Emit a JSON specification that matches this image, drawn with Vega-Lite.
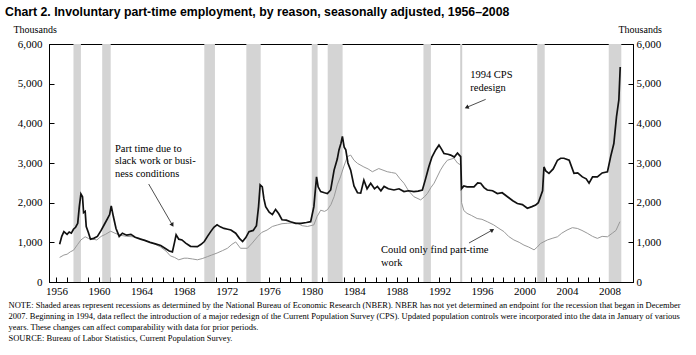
{
  "$schema": "https://vega.github.io/schema/vega-lite/v6.json",
  "width": 584,
  "height": 238,
  "autosize": {"type": "none"},
  "padding": {"left": 49, "top": 44, "right": 63, "bottom": 73},
  "background": "white",
  "config": {"view": {"stroke": "black", "strokeWidth": 1}, "font": "Liberation Serif"},
  "title": {
    "text": "Chart 2. Involuntary part-time employment, by reason, seasonally adjusted, 1956–2008",
    "anchor": "start",
    "frame": "group",
    "dx": -44,
    "offset": 6,
    "font": "Liberation Sans",
    "fontSize": 12.3,
    "fontWeight": "bold",
    "color": "black"
  },
  "datasets": {
    "rec": [
      {"t": 1957.6, "t2": 1958.3},
      {"t": 1960.3, "t2": 1961.1},
      {"t": 1969.9, "t2": 1970.9},
      {"t": 1973.85, "t2": 1975.2},
      {"t": 1980.0, "t2": 1980.55},
      {"t": 1981.5, "t2": 1982.9},
      {"t": 1990.5, "t2": 1991.2},
      {"t": 2001.2, "t2": 2001.9},
      {"t": 2007.92, "t2": 2009.1}
    ],
    "slack": [
      {"t": 1956.3, "v": 950}, {"t": 1956.5, "v": 1150}, {"t": 1956.7, "v": 1270}, {"t": 1957.0, "v": 1200},
      {"t": 1957.2, "v": 1260}, {"t": 1957.4, "v": 1230}, {"t": 1957.6, "v": 1330}, {"t": 1957.8, "v": 1380},
      {"t": 1958.0, "v": 1480}, {"t": 1958.15, "v": 1900}, {"t": 1958.3, "v": 2220}, {"t": 1958.45, "v": 2150},
      {"t": 1958.55, "v": 1750}, {"t": 1958.7, "v": 1780}, {"t": 1958.8, "v": 1400}, {"t": 1959.0, "v": 1250},
      {"t": 1959.2, "v": 1080}, {"t": 1959.5, "v": 1100}, {"t": 1959.85, "v": 1150}, {"t": 1960.2, "v": 1300},
      {"t": 1960.5, "v": 1450}, {"t": 1960.8, "v": 1600}, {"t": 1961.0, "v": 1700}, {"t": 1961.15, "v": 1920},
      {"t": 1961.35, "v": 1650}, {"t": 1961.6, "v": 1350}, {"t": 1961.9, "v": 1150}, {"t": 1962.2, "v": 1230},
      {"t": 1962.6, "v": 1180}, {"t": 1963.0, "v": 1200}, {"t": 1963.4, "v": 1130}, {"t": 1963.9, "v": 1080},
      {"t": 1964.3, "v": 1050}, {"t": 1964.8, "v": 1000}, {"t": 1965.3, "v": 960}, {"t": 1965.8, "v": 920},
      {"t": 1966.2, "v": 850}, {"t": 1966.6, "v": 780}, {"t": 1966.9, "v": 760}, {"t": 1967.1, "v": 1000},
      {"t": 1967.25, "v": 1190}, {"t": 1967.5, "v": 1080}, {"t": 1967.8, "v": 1060}, {"t": 1968.15, "v": 980},
      {"t": 1968.6, "v": 900}, {"t": 1969.25, "v": 890}, {"t": 1969.6, "v": 950}, {"t": 1969.9, "v": 1020},
      {"t": 1970.2, "v": 1150}, {"t": 1970.5, "v": 1270}, {"t": 1970.8, "v": 1380}, {"t": 1971.1, "v": 1440},
      {"t": 1971.4, "v": 1390}, {"t": 1971.75, "v": 1350}, {"t": 1972.1, "v": 1330}, {"t": 1972.4, "v": 1310},
      {"t": 1972.85, "v": 1230}, {"t": 1973.2, "v": 1100}, {"t": 1973.5, "v": 1020}, {"t": 1973.8, "v": 1120},
      {"t": 1974.1, "v": 1270}, {"t": 1974.5, "v": 1300}, {"t": 1974.8, "v": 1420}, {"t": 1975.0, "v": 1900},
      {"t": 1975.15, "v": 2450}, {"t": 1975.35, "v": 2400}, {"t": 1975.5, "v": 2100}, {"t": 1975.67, "v": 1900},
      {"t": 1976.0, "v": 1760}, {"t": 1976.3, "v": 1700}, {"t": 1976.6, "v": 1830}, {"t": 1976.9, "v": 1720},
      {"t": 1977.2, "v": 1570}, {"t": 1977.6, "v": 1560}, {"t": 1978.0, "v": 1520}, {"t": 1978.5, "v": 1480},
      {"t": 1979.0, "v": 1480}, {"t": 1979.5, "v": 1500}, {"t": 1979.9, "v": 1520}, {"t": 1980.2, "v": 1900},
      {"t": 1980.45, "v": 2650}, {"t": 1980.6, "v": 2400}, {"t": 1980.84, "v": 2280}, {"t": 1981.2, "v": 2250},
      {"t": 1981.47, "v": 2230}, {"t": 1981.78, "v": 2320}, {"t": 1982.1, "v": 2820}, {"t": 1982.4, "v": 3100},
      {"t": 1982.56, "v": 3330}, {"t": 1982.75, "v": 3500}, {"t": 1982.88, "v": 3670}, {"t": 1983.05, "v": 3400},
      {"t": 1983.2, "v": 3330}, {"t": 1983.4, "v": 3000}, {"t": 1983.66, "v": 2820}, {"t": 1983.97, "v": 2420},
      {"t": 1984.3, "v": 2250}, {"t": 1984.6, "v": 2240}, {"t": 1984.9, "v": 2570}, {"t": 1985.2, "v": 2350},
      {"t": 1985.54, "v": 2490}, {"t": 1985.9, "v": 2350}, {"t": 1986.17, "v": 2410}, {"t": 1986.5, "v": 2300},
      {"t": 1986.8, "v": 2410}, {"t": 1987.2, "v": 2350}, {"t": 1987.73, "v": 2320}, {"t": 1988.2, "v": 2350},
      {"t": 1988.67, "v": 2280}, {"t": 1989.1, "v": 2300}, {"t": 1989.6, "v": 2280}, {"t": 1990.0, "v": 2290},
      {"t": 1990.4, "v": 2320}, {"t": 1990.7, "v": 2600}, {"t": 1991.0, "v": 2900}, {"t": 1991.3, "v": 3150},
      {"t": 1991.65, "v": 3330}, {"t": 1991.96, "v": 3450}, {"t": 1992.2, "v": 3350}, {"t": 1992.43, "v": 3240},
      {"t": 1992.8, "v": 3220}, {"t": 1993.06, "v": 3200}, {"t": 1993.4, "v": 3150}, {"t": 1993.7, "v": 3250},
      {"t": 1994.0, "v": 3160}, {"t": 1994.08, "v": 2350}, {"t": 1994.3, "v": 2420}, {"t": 1994.6, "v": 2400},
      {"t": 1995.25, "v": 2400}, {"t": 1995.6, "v": 2500}, {"t": 1995.88, "v": 2490}, {"t": 1996.2, "v": 2380},
      {"t": 1996.5, "v": 2320}, {"t": 1997.0, "v": 2300}, {"t": 1997.45, "v": 2230}, {"t": 1997.9, "v": 2250},
      {"t": 1998.4, "v": 2150}, {"t": 1998.9, "v": 2050}, {"t": 1999.33, "v": 1980}, {"t": 1999.8, "v": 1950},
      {"t": 2000.27, "v": 1860}, {"t": 2000.7, "v": 1900}, {"t": 2001.05, "v": 1940}, {"t": 2001.3, "v": 2000},
      {"t": 2001.5, "v": 2150}, {"t": 2001.7, "v": 2300}, {"t": 2001.83, "v": 2900}, {"t": 2002.0, "v": 2800},
      {"t": 2002.3, "v": 2740}, {"t": 2002.7, "v": 2850}, {"t": 2003.1, "v": 3070}, {"t": 2003.4, "v": 3120},
      {"t": 2003.7, "v": 3120}, {"t": 2004.2, "v": 3070}, {"t": 2004.65, "v": 2740}, {"t": 2005.0, "v": 2750},
      {"t": 2005.44, "v": 2650}, {"t": 2005.8, "v": 2600}, {"t": 2006.07, "v": 2490}, {"t": 2006.4, "v": 2650},
      {"t": 2006.85, "v": 2650}, {"t": 2007.3, "v": 2750}, {"t": 2007.8, "v": 2780}, {"t": 2008.1, "v": 3160},
      {"t": 2008.4, "v": 3490}, {"t": 2008.65, "v": 4170}, {"t": 2008.87, "v": 4590}, {"t": 2009.0, "v": 5420}
    ],
    "only": [
      {"t": 1956.3, "v": 620}, {"t": 1956.7, "v": 680}, {"t": 1957.0, "v": 700}, {"t": 1957.3, "v": 760},
      {"t": 1957.6, "v": 800}, {"t": 1958.0, "v": 950}, {"t": 1958.3, "v": 1060}, {"t": 1958.7, "v": 1140},
      {"t": 1959.0, "v": 1100}, {"t": 1959.4, "v": 1080}, {"t": 1959.8, "v": 1060}, {"t": 1960.2, "v": 1150},
      {"t": 1960.6, "v": 1200}, {"t": 1961.1, "v": 1280}, {"t": 1961.5, "v": 1230}, {"t": 1962.0, "v": 1180},
      {"t": 1962.6, "v": 1150}, {"t": 1963.2, "v": 1140}, {"t": 1963.8, "v": 1100}, {"t": 1964.5, "v": 1030},
      {"t": 1965.2, "v": 960}, {"t": 1965.8, "v": 880}, {"t": 1966.3, "v": 780}, {"t": 1966.7, "v": 660},
      {"t": 1967.1, "v": 620}, {"t": 1967.5, "v": 560}, {"t": 1968.0, "v": 600}, {"t": 1968.3, "v": 600},
      {"t": 1968.8, "v": 580}, {"t": 1969.25, "v": 560}, {"t": 1969.7, "v": 590}, {"t": 1970.2, "v": 640},
      {"t": 1970.6, "v": 680}, {"t": 1971.1, "v": 730}, {"t": 1971.6, "v": 790}, {"t": 1972.07, "v": 850},
      {"t": 1972.5, "v": 950}, {"t": 1972.85, "v": 1010}, {"t": 1973.3, "v": 850}, {"t": 1973.95, "v": 850},
      {"t": 1974.4, "v": 980}, {"t": 1974.9, "v": 1140}, {"t": 1975.3, "v": 1250}, {"t": 1975.8, "v": 1310},
      {"t": 1976.3, "v": 1400}, {"t": 1976.8, "v": 1440}, {"t": 1977.2, "v": 1470}, {"t": 1977.7, "v": 1480},
      {"t": 1978.2, "v": 1490}, {"t": 1978.65, "v": 1480}, {"t": 1979.1, "v": 1420}, {"t": 1979.6, "v": 1400},
      {"t": 1980.2, "v": 1440}, {"t": 1980.5, "v": 1650}, {"t": 1980.84, "v": 1810}, {"t": 1981.2, "v": 1780},
      {"t": 1981.47, "v": 1820}, {"t": 1981.8, "v": 1950}, {"t": 1982.1, "v": 2150}, {"t": 1982.4, "v": 2450},
      {"t": 1982.7, "v": 2650}, {"t": 1983.0, "v": 2900}, {"t": 1983.35, "v": 3160}, {"t": 1983.66, "v": 3200},
      {"t": 1983.97, "v": 3070}, {"t": 1984.3, "v": 2990}, {"t": 1984.9, "v": 2900}, {"t": 1985.3, "v": 2850},
      {"t": 1985.7, "v": 2780}, {"t": 1986.3, "v": 2860}, {"t": 1986.7, "v": 2820}, {"t": 1987.1, "v": 2780},
      {"t": 1987.5, "v": 2760}, {"t": 1987.9, "v": 2740}, {"t": 1988.3, "v": 2600}, {"t": 1988.67, "v": 2490},
      {"t": 1989.1, "v": 2300}, {"t": 1989.6, "v": 2150}, {"t": 1990.24, "v": 2070}, {"t": 1990.6, "v": 2150},
      {"t": 1990.87, "v": 2230}, {"t": 1991.2, "v": 2380}, {"t": 1991.5, "v": 2490}, {"t": 1992.1, "v": 2820},
      {"t": 1992.4, "v": 2950}, {"t": 1992.75, "v": 3070}, {"t": 1993.37, "v": 3120}, {"t": 1993.7, "v": 3000},
      {"t": 1994.0, "v": 2950}, {"t": 1994.08, "v": 2000}, {"t": 1994.3, "v": 1800}, {"t": 1994.6, "v": 1730},
      {"t": 1995.0, "v": 1680}, {"t": 1995.55, "v": 1600}, {"t": 1996.0, "v": 1580}, {"t": 1996.5, "v": 1520},
      {"t": 1997.1, "v": 1440}, {"t": 1997.6, "v": 1350}, {"t": 1998.07, "v": 1270}, {"t": 1998.5, "v": 1150},
      {"t": 1999.0, "v": 1060}, {"t": 1999.5, "v": 1000}, {"t": 1999.95, "v": 930}, {"t": 2000.4, "v": 880},
      {"t": 2000.9, "v": 810}, {"t": 2001.2, "v": 880}, {"t": 2001.5, "v": 970}, {"t": 2002.15, "v": 1060},
      {"t": 2002.6, "v": 1100}, {"t": 2003.1, "v": 1140}, {"t": 2003.5, "v": 1230}, {"t": 2004.0, "v": 1310},
      {"t": 2004.5, "v": 1370}, {"t": 2004.97, "v": 1350}, {"t": 2005.4, "v": 1300}, {"t": 2005.9, "v": 1230},
      {"t": 2006.4, "v": 1150}, {"t": 2006.85, "v": 1100}, {"t": 2007.3, "v": 1150}, {"t": 2007.8, "v": 1140},
      {"t": 2008.25, "v": 1230}, {"t": 2008.6, "v": 1300}, {"t": 2008.97, "v": 1520}
    ],
    "notes": [
      {"t": 1961.5, "v": 3490, "label": "Part time due to\nslack work or busi-\nness conditions"},
      {"t": 1994.9, "v": 5340, "label": "1994 CPS\nredesign"},
      {"t": 1986.5, "v": 930, "label": "Could only find part-time\nwork"}
    ],
    "arrows": [
      {"t": 1964.67, "v": 2470, "t2": 1966.9, "v2": 1436},
      {"t": 1996.35, "v": 4604, "t2": 1994.56, "v2": 4402},
      {"t": 1994.78, "v": 983, "t2": 1996.98, "v2": 1310}
    ]
  },
  "encoding": {
    "x": {
      "field": "t",
      "type": "quantitative",
      "scale": {"domain": [1955.3, 2010.2], "nice": false, "zero": false},
      "axis": {
        "values": [1956,1957,1958,1959,1960,1961,1962,1963,1964,1965,1966,1967,1968,1969,1970,1971,1972,1973,1974,1975,1976,1977,1978,1979,1980,1981,1982,1983,1984,1985,1986,1987,1988,1989,1990,1991,1992,1993,1994,1995,1996,1997,1998,1999,2000,2001,2002,2003,2004,2005,2006,2007,2008,2009],
        "labelExpr": "datum.value % 4 == 0 ? format(datum.value, 'd') : ''",
        "labelOverlap": false,
        "labelBound": false,
        "labelFlush": false,
        "grid": false,
        "tickSize": -5,
        "tickColor": "black",
        "domainColor": "black",
        "labelFont": "Liberation Serif",
        "labelFontSize": 11,
        "labelColor": "black",
        "labelPadding": 8,
        "title": [
          "NOTE:  Shaded areas represent recessions as determined by the National Bureau of Economic Research (NBER).  NBER has not yet determined an endpoint for the recession that began in December",
          "2007.  Beginning in 1994, data reflect the introduction of a major redesign of the Current Population Survey (CPS). Updated population controls were incorporated into the data in January of various",
          "years.  These changes can affect comparability with data for prior periods.",
          "SOURCE: Bureau of Labor Statistics, Current Population Survey."
        ],
        "titleFont": "Liberation Serif",
        "titleFontSize": 8.5,
        "titleFontWeight": "normal",
        "titleColor": "black",
        "titleAlign": "left",
        "titleAnchor": "start",
        "titleBaseline": "top",
        "titleX": -41,
        "titleY": 18,
        "titleLineHeight": 11
      }
    }
  },
  "layer": [
    {
      "data": {"name": "rec"},
      "mark": {"type": "rect", "color": "#d4d4d4"},
      "encoding": {"x2": {"field": "t2"}}
    },
    {
      "data": {"values": [{"t": 1994.05}]},
      "mark": {"type": "rule", "color": "#cfcfcf", "strokeWidth": 2},
      "encoding": {}
    },
    {
      "data": {"name": "only"},
      "mark": {"type": "line", "color": "#999999", "strokeWidth": 1},
      "encoding": {
        "y": {
          "field": "v", "type": "quantitative",
          "scale": {"domain": [0, 6000], "nice": false},
          "axis": {
            "orient": "right",
            "values": [0, 1000, 2000, 3000, 4000, 5000, 6000],
            "format": ",d",
            "grid": false,
            "tickSize": -5,
            "tickColor": "black",
            "domainColor": "black",
            "labelFont": "Liberation Serif",
            "labelFontSize": 11,
            "labelColor": "black",
            "labelPadding": 8,
            "title": "Thousands",
            "titleAngle": 0,
            "titleX": -15,
            "titleY": -15,
            "titleAlign": "left",
            "titleBaseline": "middle",
            "titleFont": "Liberation Serif",
            "titleFontSize": 10,
            "titleFontWeight": "normal",
            "titleColor": "black"
          }
        }
      }
    },
    {
      "data": {"name": "slack"},
      "mark": {"type": "line", "color": "#111111", "strokeWidth": 1.7},
      "encoding": {
        "y": {
          "field": "v", "type": "quantitative",
          "scale": {"domain": [0, 6000], "nice": false},
          "axis": {
            "orient": "left",
            "values": [0, 1000, 2000, 3000, 4000, 5000, 6000],
            "format": ",d",
            "grid": false,
            "tickSize": -5,
            "tickColor": "black",
            "domainColor": "black",
            "labelFont": "Liberation Serif",
            "labelFontSize": 11,
            "labelColor": "black",
            "labelPadding": 12,
            "title": "Thousands",
            "titleAngle": 0,
            "titleX": -36,
            "titleY": -15,
            "titleAlign": "left",
            "titleBaseline": "middle",
            "titleFont": "Liberation Serif",
            "titleFontSize": 10,
            "titleFontWeight": "normal",
            "titleColor": "black"
          }
        }
      }
    },
    {
      "data": {"name": "arrows"},
      "mark": {"type": "rule", "color": "#222222", "strokeWidth": 0.8},
      "encoding": {
        "x2": {"field": "t2"},
        "y": {"field": "v", "type": "quantitative", "scale": {"domain": [0, 6000], "nice": false}, "axis": null},
        "y2": {"field": "v2"}
      }
    },
    {
      "data": {"values": [{"t": 1966.9, "v": 1436}]},
      "mark": {"type": "point", "shape": "triangle-up", "angle": 150, "filled": true, "color": "#222222", "size": 22, "opacity": 1},
      "encoding": {"y": {"field": "v", "type": "quantitative", "scale": {"domain": [0, 6000], "nice": false}, "axis": null}}
    },
    {
      "data": {"values": [{"t": 1994.56, "v": 4402}]},
      "mark": {"type": "point", "shape": "triangle-up", "angle": 247, "filled": true, "color": "#222222", "size": 22, "opacity": 1},
      "encoding": {"y": {"field": "v", "type": "quantitative", "scale": {"domain": [0, 6000], "nice": false}, "axis": null}}
    },
    {
      "data": {"values": [{"t": 1996.98, "v": 1310}]},
      "mark": {"type": "point", "shape": "triangle-up", "angle": 57, "filled": true, "color": "#222222", "size": 22, "opacity": 1},
      "encoding": {"y": {"field": "v", "type": "quantitative", "scale": {"domain": [0, 6000], "nice": false}, "axis": null}}
    },
    {
      "data": {"name": "notes"},
      "mark": {"type": "text", "align": "left", "baseline": "top", "font": "Liberation Serif", "fontSize": 10.5, "lineHeight": 12.5, "lineBreak": "\n", "color": "black"},
      "encoding": {
        "y": {"field": "v", "type": "quantitative", "scale": {"domain": [0, 6000], "nice": false}, "axis": null},
        "text": {"field": "label"}
      }
    }
  ],
  "resolve": {"axis": {"y": "independent"}}
}
